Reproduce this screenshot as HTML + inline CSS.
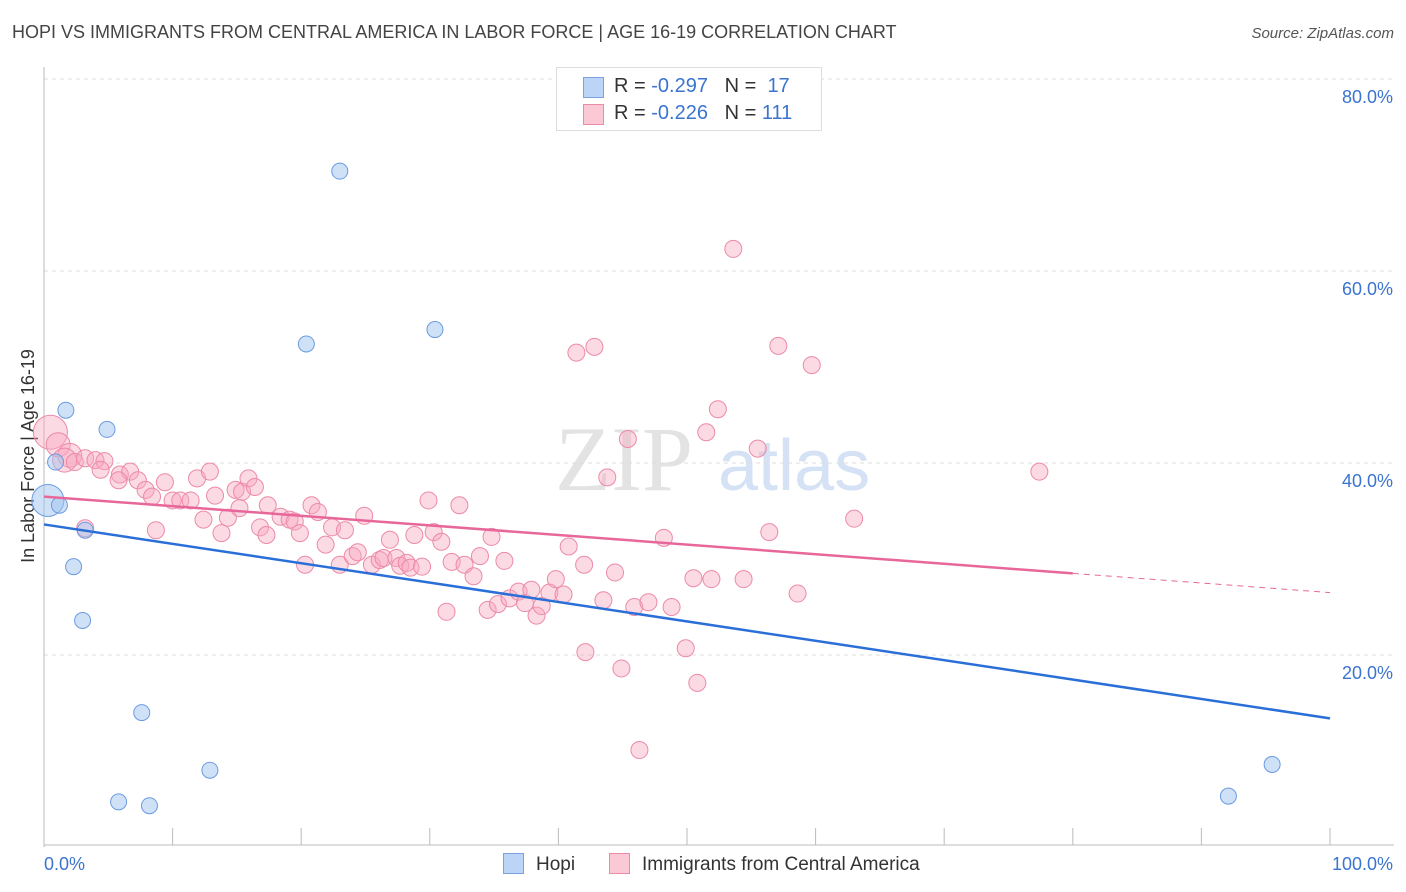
<!DOCTYPE html>
<html><head><meta charset="utf-8">
<style>
body{margin:0;background:#fff;font-family:"Liberation Sans",sans-serif;}
#wrap{position:relative;width:1406px;height:892px;overflow:hidden;}
.t{position:absolute;white-space:nowrap;}
</style></head>
<body>
<div id="wrap">
<div class="t" style="left:12px;top:22px;font-size:18px;color:#444;">HOPI VS IMMIGRANTS FROM CENTRAL AMERICA IN LABOR FORCE | AGE 16-19 CORRELATION CHART</div>
<div class="t" style="right:12px;top:25px;font-size:15px;color:#555;font-style:italic;">Source: ZipAtlas.com</div>
<svg id="svg" width="1406" height="892" style="position:absolute;left:0;top:0"></svg>
</div>
<script>
const hopiX=[23,20.4,30.4,1.7,4.9,0.9,0.3,1.2,3.2,2.3,3,7.6,12.9,5.8,8.2,92.1,95.5];
const hopiY=[70.4,52.4,53.9,45.5,43.5,40.1,36.1,35.6,33,29.2,23.6,14,8,4.7,4.3,5.3,8.6];
const hopiR=[8,8,8,8,8,8,16,8,8,8,8,8,8,8,8,8,8];
const imX=[53.6,41.4,42.8,57.1,59.7,52.4,45.4,51.5,55.5,43.8,77.4,63.0,56.4,48.2,40.8,0.5,1.1,2.0,1.6,2.4,3.2,4.0,4.7,4.4,5.9,6.7,5.8,7.3,7.9,8.4,9.4,10.0,10.6,11.4,11.9,12.9,13.3,12.4,13.8,14.3,14.9,15.4,15.9,16.4,17.4,16.8,17.3,18.4,19.1,19.5,19.9,20.3,20.8,21.3,21.9,22.4,23.0,23.4,24.0,24.4,24.9,25.5,26.1,26.4,26.9,27.4,27.7,28.2,28.5,28.8,29.4,29.9,30.3,30.9,31.3,31.7,32.3,32.7,33.4,33.9,34.5,34.8,35.3,35.8,36.2,36.9,37.4,37.9,38.3,38.7,39.3,39.8,40.4,42.0,42.1,43.5,44.4,44.9,45.9,46.3,47.0,48.8,49.9,50.5,50.8,51.9,54.4,58.6,15.2,8.7,3.2];
const imY=[62.3,51.5,52.1,52.2,50.2,45.6,42.5,43.2,41.5,38.5,39.1,34.2,32.8,32.2,31.3,43.2,41.9,40.8,40.3,40.1,40.5,40.3,40.2,39.3,38.8,39.1,38.2,38.2,37.2,36.5,38.0,36.1,36.1,36.1,38.4,39.1,36.6,34.1,32.7,34.3,37.2,37.0,38.4,37.5,35.6,33.3,32.5,34.4,34.1,33.9,32.7,29.4,35.6,34.9,31.5,33.3,29.4,33.0,30.3,30.7,34.5,29.4,29.9,30.1,32.0,30.1,29.3,29.6,29.1,32.5,29.2,36.1,32.8,31.8,24.5,29.7,35.6,29.4,28.2,30.3,24.7,32.3,25.3,29.8,25.9,26.6,25.4,26.8,24.1,25.1,26.5,27.9,26.3,29.4,20.3,25.7,28.6,18.6,25.0,10.1,25.5,25.0,20.7,28.0,17.1,27.9,27.9,26.4,35.3,33.0,33.2];
const imBig=[15,16,17,18];
const hopiTrend=[33.6,13.4];   // y at x=0, x=100
const imTrend=[36.5,26.5];     // y at x=0, x=100 (solid until 80)
const yTicks=[20,40,60,80];

const X0=44,X1=1330,Y0=847,PX=(X1-X0)/100,PY=9.6;
const sx=v=>X0+v*PX, sy=v=>Y0-v*PY;
const svg=document.getElementById('svg');
const NS='http://www.w3.org/2000/svg';
function mk(tag,attrs){const e=document.createElementNS(NS,tag);for(const k in attrs)e.setAttribute(k,attrs[k]);svg.appendChild(e);return e;}

// watermark
let w=mk('text',{x:555,y:490,'font-size':92,fill:'#e3e3e3','font-family':'Liberation Serif, serif'});w.textContent='ZIP';


w=mk('text',{x:718,y:490,'font-size':72,fill:'#d5e2f5','font-family':'Liberation Sans, sans-serif'});w.textContent='atlas';



// gridlines + labels
yTicks.forEach(t=>{
 const g=mk('line',{x1:X0,x2:1394,y1:sy(t),y2:sy(t),stroke:'#ddd','stroke-dasharray':'4,4'});
 
 
 const l=mk('text',{x:1393,y:sy(t)+24,'text-anchor':'end','font-size':18,fill:'#3a74d0'});l.textContent=t.toFixed(1)+'%';
 
 
});
let ln=mk('line',{x1:X0,x2:X0,y1:67,y2:Y0,stroke:'#bbb'});


ln=mk('line',{x1:X0,x2:1394,y1:845,y2:845,stroke:'#bbb'});


for(let i=1;i<=10;i++){const tk=mk('line',{x1:sx(i*10),x2:sx(i*10),y1:828,y2:845,stroke:'#bbb'});
 
 }
let tx=mk('text',{x:44,y:870,'font-size':18,fill:'#3a74d0'});tx.textContent='0.0%';


tx=mk('text',{x:1393,y:870,'text-anchor':'end','font-size':18,fill:'#3a74d0'});tx.textContent='100.0%';


tx=mk('text',{x:34,y:456,'text-anchor':'middle','font-size':18,fill:'#333',transform:'rotate(-90 34 456)'});tx.textContent='In Labor Force | Age 16-19';



// points
imX.forEach((x,i)=>{const c=mk('circle',{cx:sx(x),cy:sy(imY[i]),r:imBig.includes(i)?(i==15?17:12):8.5,fill:'rgba(247,168,190,0.42)',stroke:'#ec8aa8','stroke-width':1});
 
 });
hopiX.forEach((x,i)=>{const c=mk('circle',{cx:sx(x),cy:sy(hopiY[i]),r:hopiR[i],fill:'rgba(160,195,240,0.5)',stroke:'#6b9be0','stroke-width':1});
 
 });

// trends
const ty=(tr,x)=>tr[0]+(tr[1]-tr[0])*x/100;
ln=mk('line',{x1:sx(0),y1:sy(ty(imTrend,0)),x2:sx(80),y2:sy(ty(imTrend,80)),stroke:'#e8679a','stroke-width':2.5});


ln=mk('line',{x1:sx(80),y1:sy(ty(imTrend,80)),x2:sx(100),y2:sy(ty(imTrend,100)),stroke:'#e8679a','stroke-width':1,'stroke-dasharray':'6,5'});


ln=mk('line',{x1:sx(0),y1:sy(ty(hopiTrend,0)),x2:sx(100),y2:sy(ty(hopiTrend,100)),stroke:'#2a6fd8','stroke-width':2.5});


</script>
<div class="t" style="left:556px;top:67px;width:264px;height:62px;border:1px solid #ddd;background:#fff;font-size:20px;color:#333;">
 <div style="position:absolute;left:26px;top:9px;width:19px;height:19px;background:#bcd4f6;border:1px solid #7ba3e3;"></div>
 <div style="position:absolute;left:57px;top:7px;">R = <span style="color:#3a74d0">-0.297</span>&nbsp;&nbsp;&nbsp;N = &nbsp;<span style="color:#3a74d0">17</span></div>
 <div style="position:absolute;left:26px;top:36px;width:19px;height:19px;background:#fbc8d6;border:1px solid #ec8aa8;"></div>
 <div style="position:absolute;left:57px;top:34px;">R = <span style="color:#3a74d0">-0.226</span>&nbsp;&nbsp;&nbsp;N = <span style="color:#3a74d0">111</span></div>
</div>
<div class="t" style="left:503px;top:853px;font-size:19px;color:#333;"><span style="display:inline-block;width:19px;height:19px;background:#bcd4f6;border:1px solid #7ba3e3;vertical-align:-4px;margin-right:12px;"></span>Hopi</div>
<div class="t" style="left:609px;top:853px;font-size:19px;color:#333;"><span style="display:inline-block;width:19px;height:19px;background:#fbc8d6;border:1px solid #ec8aa8;vertical-align:-4px;margin-right:12px;"></span>Immigrants from Central America</div>
</body></html>
